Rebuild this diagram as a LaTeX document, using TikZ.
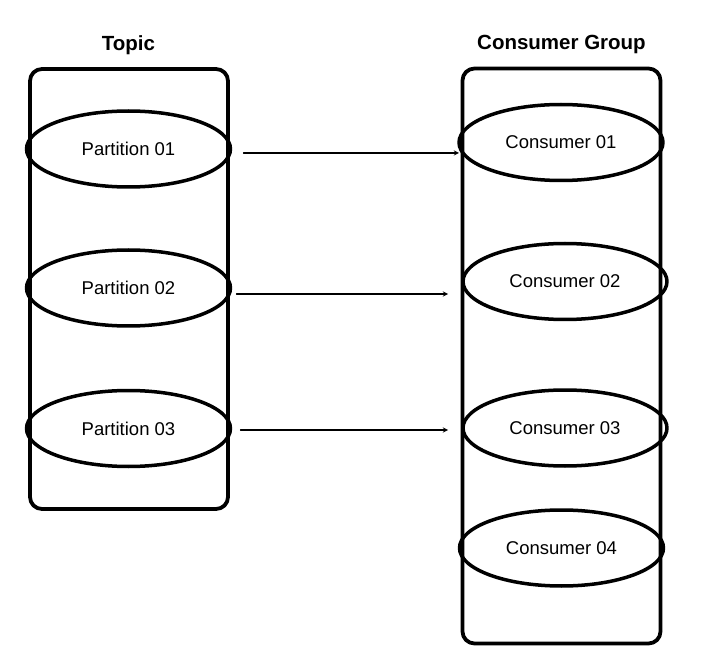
\documentclass[tikz,border=0pt]{standalone}
\usepackage{fontspec}
\setmainfont{Liberation Sans}
\usetikzlibrary{shapes.geometric}
\begin{document}
\begin{tikzpicture}[x=1pt, y=-1pt, line join=round, line cap=round, >=stealth]
    \tikzset{group box/.style={draw, line width=3.8pt, rounded corners=12pt, minimum width=198pt, inner sep=0pt, outer sep=0pt},
             member/.style={draw, ellipse, line width=3.5pt, minimum width=204pt, minimum height=76pt, inner sep=0pt, outer sep=0pt, font=\fontsize{18.5}{20}\selectfont},
             title style/.style={font=\fontsize{20.5}{22}\selectfont\bfseries},
             feed/.style={->, line width=1.3pt}}
    \useasboundingbox (0,0) rectangle (713,671);
    % the two columns
    \node[group box, minimum height=440pt] (topic) at (129,289) {};
    \node[group box, minimum height=575pt] (group) at (561.5,356) {};
    \node[title style] (topictitle) at (128.5,45) {Topic};
    \node[title style] (grouptitle) at (561.5,44) {Consumer Group};
    % partitions
    \node[member] (p1) at (128.5,149) {Partition 01};
    \node[member] (p2) at (128.5,288) {Partition 02};
    \node[member] (p3) at (128.5,428.5) {Partition 03};
    % consumers
    \node[member] (c1) at (561,142.5) {Consumer 01};
    \node[member] (c2) at (565,281.5) {Consumer 02};
    \node[member] (c3) at (565,428) {Consumer 03};
    \node[member] (c4) at (561.5,548) {Consumer 04};
    % assignments
    \draw[feed, shorten <=13pt] ([yshift=-4pt]p1.east) -- ([yshift=-4pt]p1.east -| c1.west);
    \draw[feed, shorten <=6pt, shorten >=15pt] ([yshift=-6pt]p2.east) -- ([yshift=-6pt]p2.east -| c2.west);
    \draw[feed, shorten <=10pt, shorten >=15pt] ([yshift=-1.5pt]p3.east) -- ([yshift=-1.5pt]p3.east -| c3.west);
\end{tikzpicture}
\end{document}
